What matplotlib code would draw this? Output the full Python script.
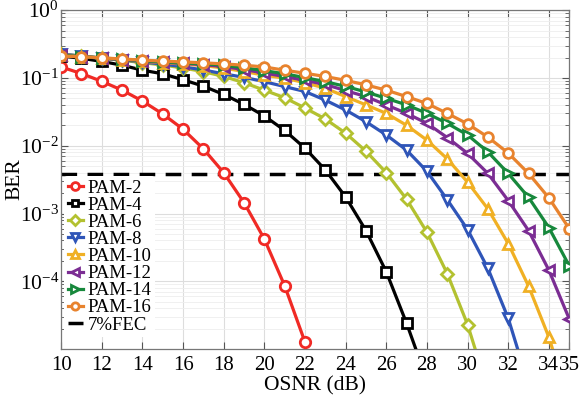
import matplotlib
matplotlib.use("Agg")
import matplotlib.pyplot as plt
import numpy as np

osnr = list(range(10, 36))

pam2 = [0.145, 0.116, 0.089, 0.066, 0.0456, 0.0294, 0.0175, 0.0090, 0.0040,
        0.00145, 4.2e-4, 8.6e-5, 1.27e-5]
pam4 = [0.21, 0.195, 0.175, 0.154, 0.13, 0.115, 0.094, 0.0755, 0.057, 0.0407,
        0.0275, 0.0168, 0.0092, 0.0044, 0.00175, 5.6e-4, 1.38e-4, 2.4e-5, 3.5e-6]
pam6 = [0.225, 0.21, 0.196, 0.182, 0.168, 0.155, 0.14, 0.124, 0.105, 0.085,
        0.066, 0.051, 0.036, 0.0248, 0.0153, 0.0083, 0.0040, 0.00162, 5.3e-4,
        1.3e-4, 2.3e-5, 2.5e-6]
pam8 = [0.225, 0.21, 0.197, 0.185, 0.172, 0.16, 0.146, 0.131, 0.115, 0.102,
        0.088, 0.0745, 0.063, 0.047, 0.0336, 0.0226, 0.0144, 0.0086, 0.0042,
        0.0016, 5.8e-4, 1.55e-4, 2.85e-5, 3e-6]
pam10 = [0.22, 0.207, 0.196, 0.186, 0.176, 0.168, 0.16, 0.152, 0.14, 0.124,
         0.11, 0.099, 0.085, 0.0705, 0.053, 0.040, 0.030, 0.020, 0.0121, 0.0064,
         0.0029, 0.00117, 3.6e-4, 8.5e-5, 1.5e-5, 1.6e-6]
pam12 = [0.215, 0.205, 0.196, 0.186, 0.178, 0.17, 0.164, 0.157, 0.147, 0.133,
         0.118, 0.105, 0.092, 0.08, 0.065, 0.053, 0.040, 0.030, 0.0214, 0.0132,
         0.0077, 0.0039, 0.00155, 5.6e-4, 1.46e-4, 2.8e-5]
pam14 = [0.215, 0.205, 0.197, 0.188, 0.18, 0.172, 0.166, 0.162, 0.154, 0.141,
         0.128, 0.115, 0.101, 0.088, 0.075, 0.062, 0.05, 0.04, 0.030, 0.0214,
         0.0144, 0.0081, 0.0039, 0.00173, 6.2e-4, 1.7e-4]
pam16 = [0.21, 0.205, 0.198, 0.19, 0.183, 0.177, 0.172, 0.167, 0.161, 0.154,
         0.145, 0.13, 0.117, 0.105, 0.092, 0.079, 0.066, 0.053, 0.042, 0.030,
         0.021, 0.0134, 0.0078, 0.0039, 0.0017, 6e-4]
fec = 3.8e-3

labels = ["PAM-2", "PAM-4", "PAM-6", "PAM-8", "PAM-10", "PAM-12", "PAM-14", "PAM-16"]
xticks = [10, 12, 14, 16, 18, 20, 22, 24, 26, 28, 30, 32, 34, 35]
yticks = [1e0, 1e-1, 1e-2, 1e-3, 1e-4]
ytick_exps = ["0", "-1", "-2", "-3", "-4"]

series = [pam2, pam4, pam6, pam8, pam10, pam12, pam14, pam16]
colors = ["#F02A25", "#000000", "#B3C130", "#2F55B8", "#F0B024", "#7B2D93",
          "#17883C", "#E8832E"]
markers = ["o", "s", "D", "v", "^", "<", ">", "o"]
msizes = [7.5, 6.5, 6.5, 7.5, 7.5, 7.5, 7.5, 7]

plt.rcParams["font.family"] = ["Liberation Serif", "DejaVu Serif"]
plt.rcParams["mathtext.fontset"] = "stix"

fig = plt.figure(figsize=(5.82, 4.05), dpi=100)
ax = fig.add_axes([0.105, 0.138, 0.873, 0.837])

for vals, lab, c, m, ms in zip(series, labels, colors, markers, msizes):
    ax.plot(osnr[:len(vals)], vals, color=c, marker=m, markersize=ms,
            markerfacecolor="white", markeredgecolor=c, markeredgewidth=2.0,
            linewidth=2.3, label=lab, zorder=3)

ax.plot([osnr[0], osnr[-1]], [fec, fec], color="black", linestyle=(0, (4.5, 3.0)),
        linewidth=2.5, label="7%FEC", zorder=2)

ax.set_yscale("log")
ax.set_xlim(10, 35)
ax.set_ylim(1e-5, 1)
ax.set_xticks(xticks)
ax.set_xticklabels([str(t) for t in xticks], fontsize=15)
ax.set_yticks(yticks)
ax.set_yticklabels([r"$\mathregular{10^{%s}}$" % e.replace("-", "\u2212") for e in ytick_exps],
                   fontsize=15.5)
ax.yaxis.set_minor_locator(matplotlib.ticker.LogLocator(base=10, subs=np.arange(2, 10)))
ax.yaxis.set_minor_formatter(matplotlib.ticker.NullFormatter())
ax.tick_params(axis="both", which="both", direction="in", top=True, right=True,
               colors="#555555", labelcolor="black")
ax.tick_params(axis="both", which="major", length=5)
ax.tick_params(axis="y", which="minor", length=3)
ax.tick_params(axis="x", which="major", pad=5)
ax.tick_params(axis="y", which="major", pad=1.5)
ax.grid(True, which="major", color="#DDDDDD", linewidth=0.8)
ax.grid(True, which="minor", axis="y", color="#EEEEEE", linewidth=0.6)
for s in ax.spines.values():
    s.set_color("#777777")
    s.set_linewidth(0.9)

ax.set_xlabel("OSNR (dB)", fontsize=15.5, labelpad=1)
ax.set_ylabel("BER", fontsize=15.5)
ax.yaxis.set_label_coords(-0.073, 0.5)

leg = ax.legend(loc="upper left", bbox_to_anchor=(0.0, 0.52), fontsize=13.5,
                frameon=True, handlelength=0.8, handletextpad=0.25,
                labelspacing=0.0, borderpad=0.2, borderaxespad=0.15,
                markerscale=0.75)
leg.get_frame().set_edgecolor("none")
leg.get_frame().set_facecolor("white")
leg.get_frame().set_alpha(1.0)

fig.savefig("out.png", dpi=100)
